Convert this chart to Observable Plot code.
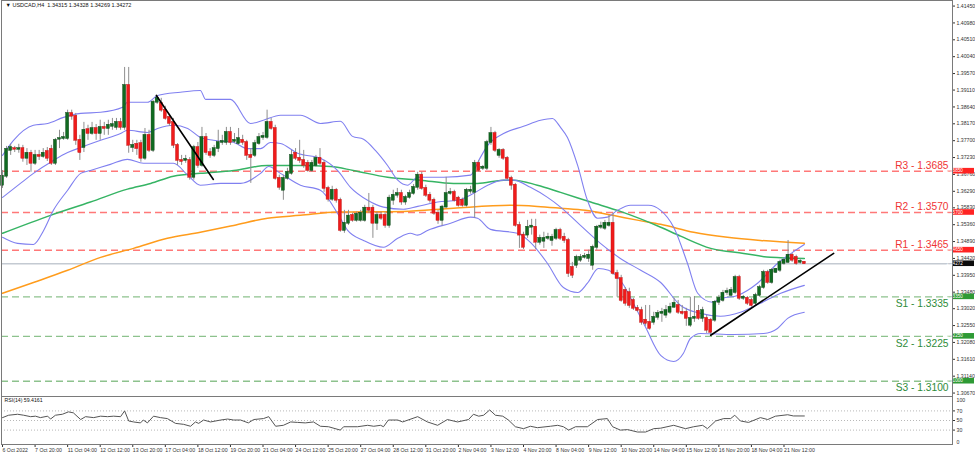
<!DOCTYPE html>
<html>
<head>
<meta charset="utf-8">
<script src="https://cdn.jsdelivr.net/npm/d3@7"></script>
<script src="https://cdn.jsdelivr.net/npm/@observablehq/plot@0.6"></script>
<style>
  html, body { margin: 0; padding: 0; background: #fff; }
  #chart { width: 975px; height: 456px; position: relative; background: #fff; }
  #chart svg { display: block; }
</style>
</head>
<body>
<div id="chart"></div>
<script>
// ---------- DATA ----------
const opens = [
1.3646,1.3671,1.3743,1.3748,1.3746,1.3748,1.3721,1.3735,1.3707,1.3729,
1.3726,1.3740,1.3746,1.3707,1.3774,1.3776,1.3776,1.3846,1.3838,1.3771,
1.3751,1.3801,1.3790,1.3804,1.3790,1.3807,1.3804,1.3810,1.3807,1.3821,
1.3807,1.3924,1.3751,1.3760,1.3762,1.3721,1.3785,1.3743,1.3877,1.3874,
1.3855,1.3835,1.3821,1.3757,1.3715,1.3715,1.3715,1.3668,1.3751,1.3701,
1.3779,1.3737,1.3729,1.3748,1.3765,1.3765,1.3793,1.3768,1.3762,1.3771,
1.3765,1.3729,1.3729,1.3762,1.3779,1.3779,1.3821,1.3804,1.3665,1.3632,
1.3665,1.3679,1.3735,1.3721,1.3715,1.3707,1.3687,1.3701,1.3721,1.3707,
1.3637,1.3607,1.3632,1.3604,1.3520,1.3540,1.3562,1.3548,1.3548,1.3548,
1.3582,1.3582,1.3540,1.3562,1.3562,1.3534,1.3604,1.3618,1.3623,1.3599,
1.3612,1.3623,1.3640,1.3674,1.3637,1.3618,1.3604,1.3568,1.3548,1.3585,
1.3623,1.3626,1.3610,1.3604,1.3590,1.3629,1.3626,1.3707,1.3693,1.3693,
1.3765,1.3790,1.3729,1.3743,1.3721,1.3665,1.3646,1.3534,1.3507,1.3507,
1.3529,1.3529,1.3487,1.3490,1.3498,1.3492,1.3498,1.3520,1.3501,1.3492,
1.3417,1.3423,1.3437,1.3445,1.3442,1.3423,1.3473,1.3529,1.3526,1.3534,
1.3540,1.3400,1.3386,1.3353,1.3347,1.3325,1.3303,1.3297,1.3270,1.3264,
1.3264,1.3278,1.3289,1.3284,1.3292,1.3306,1.3311,1.3292,1.3292,1.3256,
1.3275,1.3295,1.3275,1.3275,1.3270,1.3270,1.3320,1.3325,1.3347,1.3339,
1.3347,1.3389,1.3331,1.3331,1.3325,1.3317,1.3339,1.3361,1.3403,1.3375,
1.3403,1.3409,1.3428,1.3431,1.3451,1.3445,1.3431,1.34315];
const highs = [
1.3687,1.3754,1.3760,1.3754,1.3760,1.3757,1.3748,1.3743,1.3743,1.3743,
1.3748,1.3751,1.3757,1.3776,1.3799,1.3793,1.3855,1.3855,1.3846,1.3785,
1.3821,1.3813,1.3821,1.3815,1.3827,1.3821,1.3827,1.3832,1.3832,1.3832,
1.3974,1.3974,1.3771,1.3771,1.3771,1.3804,1.3799,1.3882,1.3896,1.3888,
1.3866,1.3843,1.3832,1.3762,1.3729,1.3729,1.3723,1.3757,1.3765,1.3807,
1.3790,1.3748,1.3757,1.3799,1.3785,1.3807,1.3807,1.3790,1.3804,1.3785,
1.3771,1.3748,1.3771,1.3790,1.3793,1.3855,1.3832,1.3813,1.3674,1.3674,
1.3693,1.3743,1.3748,1.3771,1.3743,1.3715,1.3715,1.3729,1.3748,1.3715,
1.3643,1.3643,1.3637,1.3610,1.3576,1.3576,1.3568,1.3571,1.3576,1.3590,
1.3623,1.3590,1.3571,1.3571,1.3571,1.3618,1.3632,1.3637,1.3632,1.3618,
1.3632,1.3648,1.3682,1.3682,1.3646,1.3626,1.3610,1.3576,1.3590,1.3668,
1.3637,1.3632,1.3615,1.3610,1.3637,1.3643,1.3715,1.3715,1.3701,1.3771,
1.3807,1.3796,1.3748,1.3748,1.3726,1.3671,1.3651,1.3543,1.3515,1.3548,
1.3551,1.3551,1.3507,1.3515,1.3512,1.3509,1.3526,1.3526,1.3512,1.3498,
1.3431,1.3451,1.3453,1.3456,1.3465,1.3479,1.3534,1.3543,1.3548,1.3562,
1.3568,1.3409,1.3395,1.3361,1.3359,1.3331,1.3311,1.3306,1.3311,1.3311,
1.3292,1.3297,1.3303,1.3311,1.3317,1.3331,1.3325,1.3311,1.3303,1.3334,
1.3336,1.3311,1.3306,1.3284,1.3275,1.3325,1.3339,1.3353,1.3359,1.3361,
1.3395,1.3395,1.3339,1.3336,1.3331,1.3345,1.3367,1.3409,1.3409,1.3414,
1.3414,1.3437,1.3442,1.3492,1.3456,1.3451,1.3440,1.34328];
const lows = [
1.3637,1.3665,1.3729,1.3737,1.3735,1.3710,1.3701,1.3682,1.3701,1.3715,
1.3721,1.3712,1.3701,1.3701,1.3748,1.3771,1.3771,1.3827,1.3757,1.3715,
1.3737,1.3771,1.3785,1.3771,1.3771,1.3785,1.3785,1.3799,1.3799,1.3799,
1.3799,1.3735,1.3737,1.3729,1.3710,1.3715,1.3737,1.3737,1.3871,1.3849,
1.3827,1.3810,1.3748,1.3701,1.3701,1.3707,1.3660,1.3660,1.3693,1.3696,
1.3729,1.3721,1.3723,1.3737,1.3757,1.3757,1.3757,1.3762,1.3757,1.3757,
1.3715,1.3651,1.3723,1.3757,1.3771,1.3774,1.3799,1.3660,1.3632,1.3604,
1.3660,1.3674,1.3715,1.3707,1.3693,1.3682,1.3682,1.3696,1.3701,1.3626,
1.3599,1.3601,1.3596,1.3515,1.3512,1.3534,1.3543,1.3543,1.3543,1.3543,
1.3568,1.3498,1.3520,1.3548,1.3526,1.3526,1.3590,1.3610,1.3590,1.3590,
1.3607,1.3618,1.3632,1.3632,1.3612,1.3596,1.3562,1.3537,1.3532,1.3582,
1.3618,1.3599,1.3585,1.3585,1.3585,1.3621,1.3554,1.3682,1.3687,1.3687,
1.3757,1.3737,1.3721,1.3715,1.3660,1.3632,1.3529,1.3470,1.3467,1.3498,
1.3507,1.3467,1.3479,1.3470,1.3492,1.3476,1.3492,1.3492,1.3484,1.3389,
1.3386,1.3414,1.3431,1.3440,1.3431,1.3409,1.3465,1.3523,1.3520,1.3529,
1.3395,1.3334,1.3320,1.3309,1.3303,1.3297,1.3292,1.3256,1.3253,1.3242,
1.3256,1.3270,1.3264,1.3275,1.3286,1.3303,1.3286,1.3284,1.3253,1.3250,
1.3264,1.3270,1.3264,1.3233,1.3228,1.3264,1.3311,1.3320,1.3339,1.3334,
1.3342,1.3325,1.3325,1.3311,1.3306,1.3311,1.3334,1.3356,1.3370,1.3370,
1.3400,1.3403,1.3423,1.3428,1.3431,1.3423,1.3426,1.34269];
const closes = [
1.3671,1.3746,1.3751,1.3746,1.3748,1.3721,1.3735,1.3707,1.3729,1.3726,
1.3735,1.3721,1.3707,1.3771,1.3776,1.3779,1.3846,1.3838,1.3771,1.3737,
1.3799,1.3790,1.3804,1.3790,1.3807,1.3804,1.3813,1.3815,1.3821,1.3807,
1.3924,1.3757,1.3757,1.3748,1.3721,1.3785,1.3743,1.3877,1.3888,1.3855,
1.3832,1.3818,1.3757,1.3715,1.3712,1.3718,1.3668,1.3751,1.3701,1.3779,
1.3737,1.3729,1.3748,1.3765,1.3768,1.3793,1.3765,1.3771,1.3776,1.3765,
1.3729,1.3723,1.3762,1.3779,1.3782,1.3821,1.3804,1.3665,1.3640,1.3665,
1.3682,1.3729,1.3721,1.3715,1.3701,1.3687,1.3707,1.3721,1.3707,1.3637,
1.3607,1.3632,1.3604,1.3520,1.3540,1.3560,1.3548,1.3565,1.3568,1.3582,
1.3576,1.3540,1.3562,1.3554,1.3534,1.3610,1.3618,1.3623,1.3599,1.3612,
1.3623,1.3640,1.3674,1.3637,1.3618,1.3604,1.3568,1.3548,1.3585,1.3623,
1.3626,1.3604,1.3590,1.3590,1.3632,1.3632,1.3707,1.3687,1.3696,1.3765,
1.3790,1.3743,1.3743,1.3721,1.3665,1.3646,1.3534,1.3507,1.3473,1.3529,
1.3532,1.3487,1.3498,1.3498,1.3501,1.3501,1.3520,1.3498,1.3492,1.3400,
1.3395,1.3445,1.3445,1.3448,1.3451,1.3473,1.3529,1.3532,1.3540,1.3540,
1.3400,1.3386,1.3325,1.3317,1.3311,1.3303,1.3297,1.3264,1.3261,1.3247,
1.3278,1.3289,1.3292,1.3297,1.3306,1.3317,1.3292,1.3289,1.3275,1.3275,
1.3278,1.3275,1.3297,1.3242,1.3236,1.3320,1.3331,1.3345,1.3350,1.3353,
1.3389,1.3331,1.3334,1.3317,1.3311,1.3339,1.3361,1.3403,1.3375,1.3409,
1.3412,1.3431,1.3437,1.3451,1.3437,1.3428,1.3434,1.34272];

// Indicator lines read at points along the picture: [bar index, price]
const bbUpper = [[0,1.3729],[2.7,1.3771],[7.6,1.3813],[11.1,1.3818],[15,1.3835],[19.2,1.3846],[24.1,1.3849],[29.5,1.3863],[30.7,1.3877],[35.6,1.3877],[38.1,1.3896],[43.7,1.3905],[48.6,1.3910],[49.9,1.3885],[56,1.3885],[60.9,1.3818],[64.1,1.3827],[68.3,1.3841],[73.2,1.3841],[78.1,1.3818],[83,1.3824],[86,1.3782],[88.7,1.3774],[91.6,1.3743],[94.6,1.3701],[97.1,1.3660],[99.5,1.3646],[102,1.3668],[108.4,1.3668],[115,1.3674],[117,1.3715],[119.2,1.3757],[123.1,1.3790],[128,1.3810],[132.2,1.3827],[135.1,1.3832],[137.1,1.3807],[138.8,1.3779],[141.3,1.3701],[143.7,1.3604],[146.2,1.3554],[148.6,1.3557],[151.1,1.3576],[154.3,1.3590],[158.7,1.3590],[161.7,1.3576],[164.9,1.3529],[168.3,1.3428],[170.8,1.3345],[174.4,1.3320],[176.9,1.3331],[180.6,1.3339],[185.5,1.3373],[190.4,1.3428],[194.1,1.3459],[197,1.3481]];
const bbMiddle = [[0,1.3612],[4.4,1.3651],[7.6,1.3679],[12.5,1.3715],[16,1.3737],[19.2,1.3751],[24.1,1.3771],[29,1.3790],[30.7,1.3799],[35.6,1.3793],[38.1,1.3804],[42,1.3813],[45.5,1.3804],[48.6,1.3779],[51.8,1.3771],[56.8,1.3765],[60.2,1.3748],[63.4,1.3748],[65.8,1.3765],[68.3,1.3762],[72.5,1.3735],[78.1,1.3721],[82.3,1.3687],[85.5,1.3640],[89.7,1.3604],[93.6,1.3585],[98.5,1.3579],[102,1.3587],[106.9,1.3599],[111.8,1.3604],[115.7,1.3623],[119.2,1.3646],[123.1,1.3660],[125.6,1.3660],[129.7,1.3640],[133.9,1.3612],[137.1,1.3585],[142,1.3534],[146.9,1.3484],[151.8,1.3442],[156.8,1.3409],[161.7,1.3375],[166.6,1.3311],[171.5,1.3289],[176.4,1.3281],[181.3,1.3292],[186.2,1.3317],[191.2,1.3345],[197,1.3367]];
const bbLower = [[0,1.3501],[3.7,1.3484],[7.6,1.3481],[10.1,1.3520],[12.5,1.3576],[16,1.3632],[19.2,1.3679],[21.6,1.3687],[26.5,1.3704],[30.7,1.3718],[34.6,1.3707],[42,1.3707],[45.5,1.3674],[48.6,1.3646],[53.6,1.3651],[58.5,1.3651],[63.4,1.3679],[65.4,1.3698],[68.3,1.3679],[73.2,1.3646],[78.1,1.3632],[82.3,1.3568],[84.8,1.3520],[88.7,1.3492],[93.6,1.3473],[97.1,1.3498],[100.2,1.3512],[102,1.3507],[104.4,1.3520],[110.1,1.3540],[115,1.3557],[116.7,1.3554],[119.9,1.3523],[126.5,1.3512],[129.7,1.3487],[133.9,1.3428],[137.8,1.3361],[141.3,1.3347],[143.7,1.3373],[146.4,1.3414],[148.9,1.3409],[152.3,1.3373],[155.5,1.3306],[158,1.3250],[161.7,1.3172],[164.9,1.3155],[167.3,1.3178],[169,1.3219],[171.5,1.3233],[179.6,1.3230],[187,1.3233],[190.4,1.3247],[192.9,1.3275],[197,1.3292]];
const maGreen = [[0,1.3512],[11.8,1.3562],[21.6,1.3599],[30.7,1.3635],[36.4,1.3651],[42,1.3671],[48.6,1.3679],[56.8,1.3687],[65.1,1.3701],[73.2,1.3701],[80.6,1.3698],[86.2,1.3687],[94.6,1.3668],[102.7,1.3660],[110.8,1.3651],[116.7,1.3651],[123.1,1.3660],[125.6,1.3660],[131.4,1.3646],[137.1,1.3626],[144.5,1.3599],[151.8,1.3573],[161.7,1.3529],[166.6,1.3504],[174,1.3470],[182.1,1.3456],[188.7,1.3445],[197,1.3442]];
const maOrange = [[0,1.3345],[7.6,1.3375],[16,1.3409],[24.1,1.3445],[32.2,1.3470],[40.5,1.3498],[48.6,1.3515],[56.8,1.3534],[65.1,1.3554],[73.2,1.3562],[82.3,1.3571],[98.5,1.3573],[110.8,1.3582],[124.8,1.3590],[131.4,1.3587],[137.1,1.3582],[143.2,1.3576],[149.9,1.3562],[156.3,1.3548],[161.7,1.3537],[169.8,1.3515],[178.1,1.3501],[186.2,1.3492],[197,1.3484]];
const rsi = [[0,56],[1.5,61],[3.7,63],[5.2,61],[6.9,58],[8.1,59],[9.3,56],[11.1,59],[11.8,53],[13,61],[14.7,63],[16.2,68],[17.4,66],[19.2,52],[20.4,58],[22.4,56],[24.1,59],[25.8,58],[27.3,59],[29,58],[30,70],[31,49],[32.2,47],[33.9,45],[34.6,51],[35.6,45],[37.1,59],[38.8,56],[40.5,54],[42.5,44],[44.5,42],[46.2,38],[47.4,47],[48.2,44],[49.4,51],[51.1,47],[53.6,51],[55.3,53],[56.8,51],[58.5,51],[60.4,45],[61.7,52],[64.1,54],[65.4,58],[67.1,38],[69,40],[70.8,47],[72.5,46],[74.4,45],[76.4,47],[78.1,38],[80.1,37],[83,30],[83.8,37],[87.2,37],[89.7,40],[91.2,38],[92.9,40],[93.6,37],[94.8,51],[97.1,51],[98.3,47],[102,58],[104.4,47],[106.9,40],[109.3,52],[111.8,47],[114.5,52],[115.7,63],[117,59],[118.2,61],[119.7,72],[121.1,61],[122.9,59],[124.3,51],[126,37],[128,33],[129.7,38],[131.4,35],[134.6,38],[136.4,40],[137.8,37],[139.1,30],[140.8,37],[143.7,37],[146.2,52],[148.6,54],[149.9,37],[151.8,30],[153.6,31],[156,26],[158,26],[160,33],[161.7,34],[164.9,40],[167.8,33],[169.8,37],[172,40],[173.2,33],[175.2,49],[177.2,54],[178.9,54],[179.9,61],[181.3,49],[183.3,46],[186.2,56],[188,52],[189.9,59],[192.9,62],[194.3,59.5],[197,59.4161]];
const trendDown = [[37.8,1.3896],[51.8,1.3662]];
const trendUp = [[174,1.3228],[204.2,1.3456]];

const levelNames  = ["R3 - 1.3685","R2 - 1.3570","R1 - 1.3465","S1 - 1.3335","S2 - 1.3225","S3 - 1.3100"];
const levelValues = [1.3685, 1.3570, 1.3465, 1.3335, 1.3225, 1.3100];
const levelKinds  = ["R","R","R","S","S","S"];
const lastPrice = 1.34272;

const priceTicks = [1.41450,1.40980,1.40510,1.40040,1.39570,1.39110,1.38640,1.38170,1.37700,1.37230,1.36760,1.36290,1.35830,1.35360,1.34890,1.34420,1.33950,1.33480,1.33020,1.32550,1.32080,1.31610,1.31140,1.30670];
const rsiTop = [100];
const rsiMid = [70, 50, 30];
const rsiBottom = [0];
const rsiLevels = [30, 50, 70];
const xTickIdx = [0,8,16,24,32,40,48,56,64,72,80,88,96,104,112,120,128,136,144,152,160,168,176,184,192];
const xTickLabels = ["6 Oct 2022","7 Oct 20:00","11 Oct 04:00","12 Oct 12:00","13 Oct 20:00","17 Oct 04:00","18 Oct 12:00","19 Oct 20:00","21 Oct 04:00","24 Oct 12:00","25 Oct 20:00","27 Oct 04:00","28 Oct 12:00","31 Oct 20:00","2 Nov 04:00","3 Nov 12:00","4 Nov 20:00","8 Nov 04:00","9 Nov 12:00","10 Nov 20:00","14 Nov 04:00","15 Nov 12:00","16 Nov 20:00","18 Nov 04:00","21 Nov 12:00"];
const titleText = "\u25BC USDCAD,H4  1.34315 1.34328 1.34269 1.34272";
const rsiTitle = "RSI(14) 59.4161";

// ---------- BUILD ----------
const candles = closes.map((c, i) => ({i, o: opens[i], h: highs[i], l: lows[i], c}));
const levels = levelValues.map((v, k) => ({v, name: levelNames[k], kind: levelKinds[k]}));
const tags = levels.map(d => ({v: d.v, fill: d.kind === "R" ? "#ff2323" : "#2e9a35"}))
  .concat([{v: lastPrice, fill: "#0c0c0c"}]);

const FONT = "Liberation Sans, Arial, sans-serif";
const xScale = {domain: [-0.25, 233.4], axis: null};
const BB = "#8080f0";
const px = d => d[0], py = d => d[1];

const tagMark = (index, scales, values, dims) => {
  const g = d3.create("svg:g").attr("font-family", FONT).attr("font-size", 4.6);
  const x0 = dims.width - dims.marginRight + 1;
  for (const t of tags) {
    const y = scales.y(t.v);
    g.append("rect").attr("x", x0).attr("y", y - 2.8).attr("width", 21).attr("height", 5.6).attr("fill", t.fill);
    g.append("text").attr("x", x0 + 1.5).attr("y", y).attr("dy", "0.35em").attr("fill", "#fff").text(t.v.toFixed(5));
  }
  return g.node();
};

const main = Plot.plot({
  width: 975, height: 396,
  marginLeft: 1, marginRight: 23, marginTop: 0, marginBottom: 0,
  style: {background: "#fff", fontFamily: FONT, overflow: "visible"},
  x: xScale,
  y: {domain: [1.30574, 1.41605], axis: null},
  marks: [
    Plot.ruleY(levels.filter(d => d.kind === "R"), {y: "v", stroke: "#ff7878", strokeWidth: 1.4, strokeDasharray: "7,4"}),
    Plot.ruleY(levels.filter(d => d.kind === "S"), {y: "v", stroke: "#8dc28d", strokeWidth: 1.4, strokeDasharray: "7,4"}),
    Plot.ruleY([lastPrice], {stroke: "#c4cad2", strokeWidth: 1.4}),
    Plot.line(maOrange, {x: px, y: py, stroke: "#ff9c1c", strokeWidth: 1.5, curve: "monotone-x"}),
    Plot.line(maGreen, {x: px, y: py, stroke: "#36b464", strokeWidth: 1.5, curve: "monotone-x"}),
    Plot.line(bbUpper, {x: px, y: py, stroke: BB, strokeWidth: 1.1, curve: "monotone-x"}),
    Plot.line(bbMiddle, {x: px, y: py, stroke: BB, strokeWidth: 1.1, curve: "monotone-x"}),
    Plot.line(bbLower, {x: px, y: py, stroke: BB, strokeWidth: 1.1, curve: "monotone-x"}),
    Plot.ruleX(candles, {x: "i", y1: "l", y2: "h", stroke: "#8e8e8e", strokeWidth: 1}),
    Plot.rect(candles, {
      x1: d => d.i - 0.38, x2: d => d.i + 0.38, y1: "o", y2: "c",
      fill: d => d.c >= d.o ? "#106b21" : "#f01b1b",
      stroke: d => d.c >= d.o ? "#0a3d12" : "#b81010", strokeWidth: 0.4,
      insetTop: -0.5, insetBottom: -0.5
    }),
    Plot.line(trendDown, {x: px, y: py, stroke: "#000", strokeWidth: 1.6}),
    Plot.line(trendUp, {x: px, y: py, stroke: "#000", strokeWidth: 1.6}),
    Plot.text(levels.filter(d => d.kind === "R"), {y: "v", text: "name", frameAnchor: "right", textAnchor: "end", lineAnchor: "bottom", dx: -4, dy: -2, fill: "#ef3434", fontSize: 10.2}),
    Plot.text(levels.filter(d => d.kind === "S"), {y: "v", text: "name", frameAnchor: "right", textAnchor: "end", lineAnchor: "top", dx: -4, dy: 3, fill: "#2e8b39", fontSize: 10.2}),
    Plot.axisY({anchor: "right", ticks: priceTicks, tickFormat: d3.format(".5f"), tickSize: 2, tickPadding: 2, fontSize: 5.2, color: "#333"}),
    tagMark,
    Plot.frame({stroke: "#7a7a7a"}),
    Plot.text([titleText], {frameAnchor: "top-left", dx: 4, dy: 3, lineAnchor: "top", fontSize: 5.5, fill: "#111"})
  ]
});

const rsiTickText = {frameAnchor: "right", textAnchor: "start", dx: 4, fontSize: 5.2, fill: "#333"};
const rsiPlot = Plot.plot({
  width: 975, height: 60,
  marginLeft: 1, marginRight: 23, marginTop: 0, marginBottom: 12,
  style: {background: "#fff", fontFamily: FONT, overflow: "visible"},
  x: xScale,
  y: {domain: [0, 100], axis: null},
  marks: [
    Plot.ruleY(rsiLevels, {stroke: "#b8b8b8", strokeDasharray: "1,2"}),
    Plot.line(rsi, {x: px, y: py, stroke: "#555", strokeWidth: 1}),
    Plot.axisY({anchor: "right", ticks: rsiMid, tickSize: 2, tickFormat: () => "", color: "#333"}),
    Plot.text(rsiTop, {y: d => d, text: d => String(d), dy: 3.5, ...rsiTickText}),
    Plot.text(rsiMid, {y: d => d, text: d => String(d), ...rsiTickText}),
    Plot.text(rsiBottom, {y: d => d, text: d => String(d), dy: -2.5, ...rsiTickText}),
    Plot.axisX({ticks: xTickIdx, tickFormat: i => xTickLabels[xTickIdx.indexOf(i)], textAnchor: "start", tickSize: 3, tickPadding: 1, fontSize: 5.2, color: "#333"}),
    Plot.frame({stroke: "#7a7a7a"}),
    Plot.text([rsiTitle], {frameAnchor: "top-left", dx: 3, dy: 2, lineAnchor: "top", fontSize: 5.2, fill: "#111"})
  ]
});

const root = document.getElementById("chart");
root.appendChild(main);
root.appendChild(rsiPlot);
</script>
</body>
</html>
